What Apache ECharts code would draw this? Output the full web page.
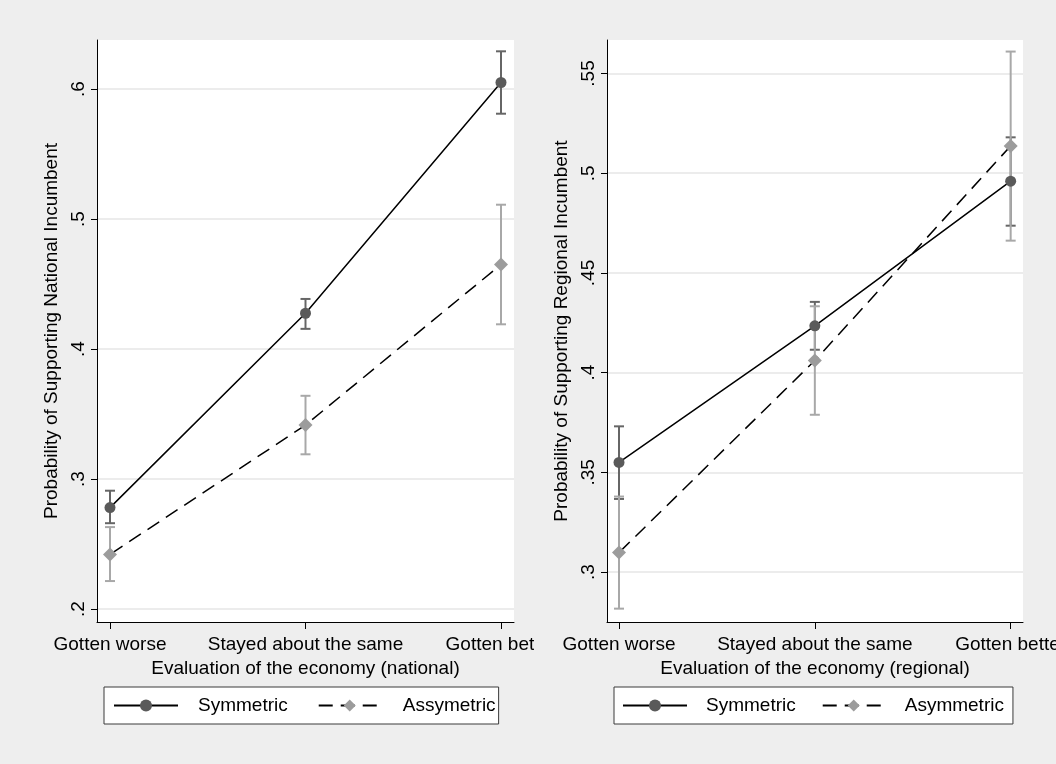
<!DOCTYPE html>
<html><head><meta charset="utf-8">
<script src="https://cdn.jsdelivr.net/npm/echarts@6/dist/echarts.min.js"></script>
<style>
html,body{margin:0;padding:0;background:#eeeeee;}
#wrap{position:relative;width:1056px;height:764px;overflow:hidden;background:#eeeeee;}
#c1{position:absolute;left:0;top:0;width:534px;height:764px;}
#c2{position:absolute;left:534px;top:0;width:522px;height:764px;}
</style></head><body>
<div id="wrap"><div id="c1"></div><div id="c2"></div></div>
<script>
const categories = ['Gotten worse', 'Stayed about the same', 'Gotten better'];

// National panel
const natSym     = [0.278, 0.4275, 0.605];
const natSymLo   = [0.266, 0.4155, 0.581];
const natSymHi   = [0.291, 0.4385, 0.629];
const natAsym    = [0.242, 0.3415, 0.465];
const natAsymLo  = [0.2215, 0.319, 0.419];
const natAsymHi  = [0.263, 0.364, 0.511];
const natTicks   = [0.2, 0.3, 0.4, 0.5, 0.6];

// Regional panel
const regSym     = [0.355, 0.4235, 0.496];
const regSymLo   = [0.3367, 0.4115, 0.4737];
const regSymHi   = [0.3731, 0.4355, 0.518];
const regAsym    = [0.3098, 0.4061, 0.5137];
const regAsymLo  = [0.2817, 0.3789, 0.4662];
const regAsymHi  = [0.3379, 0.4333, 0.561];
const regTicks   = [0.3, 0.35, 0.4, 0.45, 0.5, 0.55];

const FONT = "'Liberation Sans', Arial, sans-serif";
const FS = 19;

function fmtY(v) { return String(+(+v).toFixed(2)).replace(/^0/, ''); }

function errorSeries(name, lo, hi, color) {
  return {
    type: 'custom', name: name, z: 1,
    data: categories.map((c, i) => [i, lo[i], hi[i]]),
    encode: { x: 0, y: [1, 2] },
    renderItem: function (params, api) {
      const x = api.value(0);
      const p1 = api.coord([x, api.value(1)]);
      const p2 = api.coord([x, api.value(2)]);
      const w = 5;
      const style = { stroke: color, lineWidth: 2, fill: null };
      return { type: 'group', children: [
        { type: 'line', shape: { x1: p1[0], y1: p1[1], x2: p2[0], y2: p2[1] }, style: style },
        { type: 'line', shape: { x1: p1[0] - w, y1: p1[1], x2: p1[0] + w, y2: p1[1] }, style: style },
        { type: 'line', shape: { x1: p2[0] - w, y1: p2[1], x2: p2[0] + w, y2: p2[1] }, style: style }
      ]};
    }
  };
}

function buildOption(cfg) {
  return {
    animation: false,
    backgroundColor: '#eeeeee',
    textStyle: { fontFamily: FONT },
    grid: { left: cfg.gridLeft, right: cfg.gridRight, top: 40, bottom: 142, show: true,
            backgroundColor: '#ffffff', borderWidth: 0, containLabel: false,
            outerBoundsMode: 'none' },
    xAxis: {
      type: 'value', min: cfg.xMin, max: cfg.xMax,
      axisLine: { show: true, onZero: false, lineStyle: { color: '#000', width: 1 } },
      axisTick: { show: true, customValues: [0, 1, 2], length: 7, lineStyle: { color: '#000', width: 1 } },
      axisLabel: { customValues: [0, 1, 2], formatter: v => categories[Math.round(v)],
                   color: '#000', fontSize: FS, fontFamily: FONT, margin: 13, hideOverlap: false },
      splitLine: { show: false },
      name: cfg.xName, nameLocation: 'middle', nameGap: 32,
      nameTextStyle: { color: '#000', fontSize: FS, fontFamily: FONT }
    },
    yAxis: {
      type: 'value', min: cfg.yMin, max: cfg.yMax,
      axisLine: { show: true, onZero: false, lineStyle: { color: '#000', width: 1 } },
      axisTick: { show: true, customValues: cfg.ticks, length: 6, lineStyle: { color: '#000', width: 1 } },
      axisLabel: { customValues: cfg.ticks, formatter: fmtY, rotate: 90, color: '#000',
                   fontSize: FS, fontFamily: FONT, margin: 9 },
      splitLine: { show: true, lineStyle: { color: '#e6e6e6', width: 1.5 } },
      name: cfg.yName, nameLocation: 'middle', nameGap: 27,
      nameTextStyle: { color: '#000', fontSize: FS, fontFamily: FONT }
    },
    legend: {
      left: cfg.legLeft, top: 687, orient: 'horizontal',
      itemWidth: 64, itemHeight: 15, itemGap: cfg.legGap,
      padding: [8, cfg.legPadR, 8, cfg.legPadL],
      backgroundColor: '#ffffff', borderColor: '#3a3a3a', borderWidth: 1, borderRadius: 0,
      textStyle: { fontSize: FS, color: '#000', fontFamily: FONT, lineHeight: 21 },
      data: [
        { name: 'Symmetric', textStyle: { padding: [0, 0, 0, cfg.legT1] } },
        { name: cfg.asymName, textStyle: { padding: [0, 0, 0, cfg.legT2] } }
      ]
    },
    series: [
      errorSeries('ciSym', cfg.symLo, cfg.symHi, '#666666'),
      errorSeries('ciAsym', cfg.asymLo, cfg.asymHi, '#a8a8a8'),
      {
        type: 'line', name: 'Symmetric', z: 3,
        data: categories.map((c, i) => [i, cfg.sym[i]]),
        symbol: 'circle', symbolSize: 11,
        itemStyle: { color: '#5a5a5a' },
        lineStyle: { color: '#000', width: 1.5, type: 'solid' }
      },
      {
        type: 'line', name: cfg.asymName, z: 2,
        data: categories.map((c, i) => [i, cfg.asym[i]]),
        symbol: 'diamond', symbolSize: 14,
        itemStyle: { color: '#9c9c9c' },
        lineStyle: { color: '#000', width: 1.5, type: [14, 8], dashOffset: 21 }
      }
    ]
  };
}

const c1 = echarts.init(document.getElementById('c1'));
c1.setOption(buildOption({
  gridLeft: 97, gridRight: 534 - 514, xMin: -0.0665, xMax: 2.0665,
  yMin: 0.19, yMax: 0.6377, ticks: natTicks,
  xName: 'Evaluation of the economy (national)',
  yName: 'Probability of Supporting National Incumbent',
  legLeft: 104, legGap: 29, legPadL: 9, legPadR: 3, legT1: 15, legT2: 16,
  asymName: 'Assymetric',
  sym: natSym, symLo: natSymLo, symHi: natSymHi,
  asym: natAsym, asymLo: natAsymLo, asymHi: natAsymHi
}));

const c2 = echarts.init(document.getElementById('c2'));
c2.setOption(buildOption({
  gridLeft: 607 - 534, gridRight: 1056 - 1023, xMin: -0.0613, xMax: 2.063,
  yMin: 0.275, yMax: 0.5668, ticks: regTicks,
  xName: 'Evaluation of the economy (regional)',
  yName: 'Probability of Supporting Regional Incumbent',
  legLeft: 614 - 534, legGap: 25, legPadL: 8, legPadR: 9, legT1: 14, legT2: 14,
  asymName: 'Asymmetric',
  sym: regSym, symLo: regSymLo, symHi: regSymHi,
  asym: regAsym, asymLo: regAsymLo, asymHi: regAsymHi
}));
</script>
</body></html>
